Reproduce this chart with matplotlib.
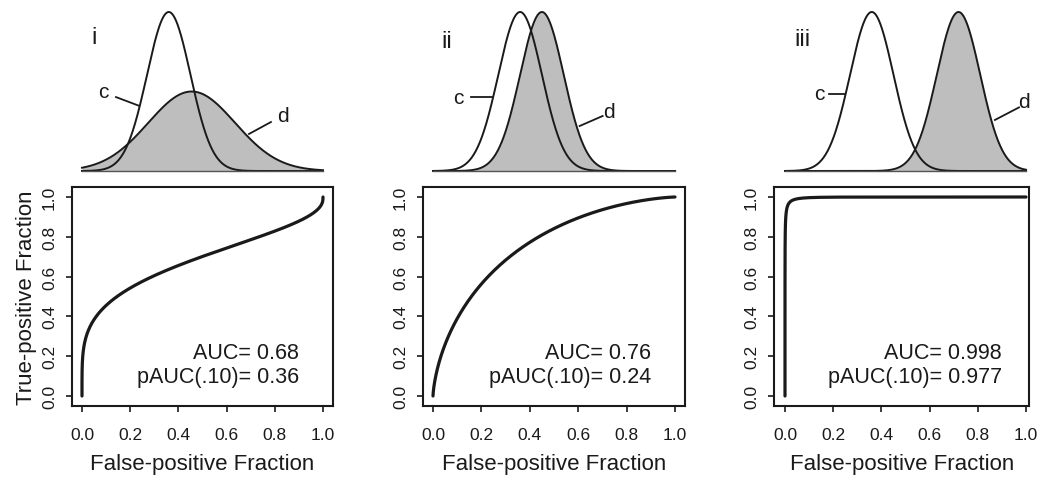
import math
import numpy as np
import matplotlib
matplotlib.use("Agg")
import matplotlib.pyplot as plt

plt.rcParams['font.family'] = ['Liberation Sans', 'DejaVu Sans']

# ---- data ----
panel_labels = ['i', 'ii', 'iii']
mu_c = [0.36, 0.36, 0.36]        # control distribution mean
sd_c = [0.09, 0.09, 0.09]        # control distribution sd
mu_d = [0.455, 0.45, 0.72]       # diseased distribution mean
sd_d = [0.18, 0.09, 0.09]        # diseased distribution sd
auc_text = ['0.68', '0.76', '0.998']
pauc_text = ['0.36', '0.24', '0.977']
xticks = [0.0, 0.2, 0.4, 0.6, 0.8, 1.0]
tick_labels = ['0.0', '0.2', '0.4', '0.6', '0.8', '1.0']

# label anchor positions (density axes coords: x data, y fraction of c peak)
c_text = [(0.087, 0.50), (0.104, 0.46), (0.141, 0.49)]
c_line = [((0.141, 0.465), (0.237, 0.41)), ((0.158, 0.465), (0.245, 0.465)), ((0.183, 0.484), (0.249, 0.484))]
d_text = [(0.834, 0.346), (0.726, 0.377), (0.992, 0.434)]
d_line = [((0.693, 0.233), (0.784, 0.308)), ((0.606, 0.283), (0.701, 0.346)), ((0.871, 0.321), (0.971, 0.40))]
roman_pos = [(0.037, 0.84), (0.033, 0.82), (0.037, 0.83)]

# ---- layout (pixels) ----
W, H = 1039, 481
x0_px = [82, 433, 785]     # pixel of x=0
x1_px = [323, 675, 1026]   # pixel of x=1
xlims = [(-0.04, 1.04), (-0.04, 1.04), (-0.045, 1.013)]
roc_y0_px, roc_y1_px = 397, 198   # y=0, y=1
dens_base_px, dens_peak_px = 172, 13

_erf = np.frompyfunc(math.erf, 1, 1)
def Phi(z):
    return 0.5 * (1.0 + _erf(np.asarray(z) / math.sqrt(2.0)).astype(float))
def pdf(x, m, s):
    return np.exp(-0.5 * ((x - m) / s) ** 2) / (s * math.sqrt(2 * math.pi))

fig = plt.figure(figsize=(W / 100, H / 100), dpi=100)
ink = '#1a1a1a'

for k in range(3):
    sc = (x1_px[k] - x0_px[k])
    xl = xlims[k]
    left = x0_px[k] + xl[0] * sc
    right = x0_px[k] + xl[1] * sc
    # ROC axes
    yl = (-0.05, 1.05)
    ysc = roc_y0_px - roc_y1_px
    top = roc_y0_px - yl[1] * ysc
    bot = roc_y0_px - yl[0] * ysc
    ax = fig.add_axes([left / W, 1 - bot / H, (right - left) / W, (bot - top) / H])
    t = np.linspace(-1.5, 2.5, 4000)
    fpf = 1 - Phi((t - mu_c[k]) / sd_c[k])
    tpf = 1 - Phi((t - mu_d[k]) / sd_d[k])
    ax.plot(fpf, tpf, color=ink, lw=2.3, solid_capstyle='round')
    ax.set_xlim(*xl)
    ax.set_ylim(*yl)
    ax.set_xticks(xticks)
    ax.set_xticklabels(tick_labels)
    ax.set_yticks(xticks)
    ax.set_yticklabels(tick_labels, rotation=90, va='center')
    ax.tick_params(axis='both', direction='out', length=4, width=1.2, labelsize=12.5, colors=ink)
    ax.tick_params(axis='x', pad=11)
    ax.tick_params(axis='y', pad=7)
    for sp in ax.spines.values():
        sp.set_linewidth(1.5)
        sp.set_color(ink)
    ax.set_xlabel('False-positive Fraction', fontsize=16, color=ink, labelpad=8)
    if k == 0:
        ax.set_ylabel('True-positive Fraction', fontsize=16, color=ink, labelpad=4)
    ax.text(0.9, 0.19, 'AUC= ' + auc_text[k], ha='right', va='baseline', fontsize=15.5, color=ink)
    ax.text(0.9, 0.07, 'pAUC(.10)= ' + pauc_text[k], ha='right', va='baseline', fontsize=15.5, color=ink)

    # density axes
    peak = pdf(mu_c[k], mu_c[k], sd_c[k])
    dax = fig.add_axes([left / W, 1 - dens_base_px / H, (right - left) / W,
                        (dens_base_px - dens_peak_px) / H])
    dax.set_xlim(*xl)
    dax.set_ylim(0, 1)
    dax.axis('off')
    xs = np.linspace(0, 1, 600)
    yc = pdf(xs, mu_c[k], sd_c[k]) / peak
    yd = pdf(xs, mu_d[k], sd_d[k]) / peak
    dax.fill_between(xs, 0, yd, color='#bebebe', lw=0)
    dax.plot(xs, yd, color=ink, lw=1.4, clip_on=False)
    dax.plot(xs, yc, color=ink, lw=1.4, clip_on=False)
    dax.plot([0, 1], [0, 0], color='#555555', lw=1.0, clip_on=False)
    dax.text(*c_text[k], 'c', ha='center', va='center', fontsize=15, color=ink)
    (a1, a2) = c_line[k]
    dax.plot([a1[0], a2[0]], [a1[1], a2[1]], color=ink, lw=1.3, clip_on=False)
    dax.text(*d_text[k], 'd', ha='center', va='center', fontsize=15, color=ink)
    (b1, b2) = d_line[k]
    dax.plot([b1[0], b2[0]], [b1[1], b2[1]], color=ink, lw=1.3, clip_on=False)
    dax.text(*roman_pos[k], panel_labels[k], ha='left', va='center', fontsize=17, color=ink)

fig.savefig('out.png', dpi=100)
